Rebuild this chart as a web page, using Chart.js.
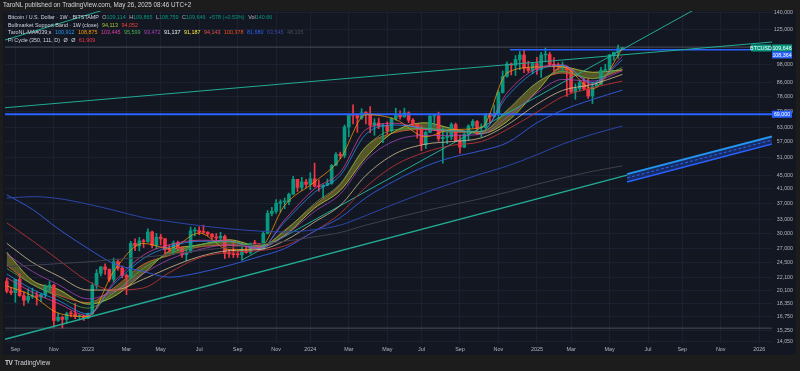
<!DOCTYPE html>
<html>
<head>
<meta charset="utf-8">
<script src="https://cdn.jsdelivr.net/npm/chart.js@4"></script>
<style>
  body { margin: 0; background: #1c1c1c; overflow: hidden; }
  #wrap { position: relative; width: 800px; height: 371px; font-family: 'Liberation Sans', Arial, sans-serif; }
  canvas { position: absolute; left: 0; top: 0; }
  .hdr { position: absolute; left: 3px; top: 1px; font-size: 6.3px; color: #d1d4dc; white-space: nowrap; }
  #legend { position: absolute; left: 8px; top: 14px; font-size: 5.4px; line-height: 7.5px; color: #d1d4dc; white-space: nowrap; }
  #legend span { margin-left: 2px; }
  .k { color: #b2b5be; }
  .g { color: #089981; }
  .tv { position: absolute; left: 5px; top: 359px; font-size: 6.5px; color: #d1d4dc; white-space: nowrap; }
  .tv b { font-size: 6.5px; letter-spacing: -0.5px; margin-right: 2px; }
</style>
</head>
<body>
<div id="wrap">
  <canvas id="chart" width="800" height="371"></canvas>
  <div class="hdr">TaroNL published on TradingView.com, May 26, 2025 08:46 UTC+2</div>
  <div id="legend">
    <div>Bitcoin / U.S. Dollar · 1W · BITSTAMP <span class="k">O</span><span class="g" style="margin-left:0">109,114</span> <span class="k">H</span><span class="g" style="margin-left:0">109,865</span> <span class="k">L</span><span class="g" style="margin-left:0">108,759</span> <span class="k">C</span><span class="g" style="margin-left:0">109,646</span> <span class="g">+578 (+0.53%)</span> <span class="k">Vol</span><span class="g" style="margin-left:0">140.66</span></div>
    <div>Bullmarket Support Band · 1W (close) <span style="color:#a8c43a">94,113</span> <span style="color:#f44336">94,052</span></div>
    <div>TaroNL-MA#039;s <span style="color:#2196f3">100,912</span> <span style="color:#ff9800">108,875</span> <span style="color:#e040a0">103,445</span> <span style="color:#4caf50">95,599</span> <span style="color:#ab47bc">93,472</span> <span style="color:#f0f0f0">91,137</span> <span style="color:#ffeb3b">91,187</span> <span style="color:#ef5350">94,143</span> <span style="color:#f4511e">100,378</span> <span style="color:#2962ff">81,680</span> <span style="color:#3949ab">63,545</span> <span style="color:#4a4d57">48,105</span></div>
    <div>Pi Cycle (350, 111, D) <span>Ø</span> <span>Ø</span> <span style="color:#f23645">61,909</span></div>
  </div>
  <div class="tv"><b>TV</b>TradingView</div>
</div>
<script>
// Weekly candles BTCUSD (Bitstamp), first candle week of 2022-08-22
const candleStart = '2022-08-22';
const opens = [
  21500,20040,19830,21770,19420,18800,19310,19420,19220,19570,20630,20900,16330,16700,16450,17120,17100,16780,16840,
  16610,17120,20870,22710,23740,23330,21780,24630,23530,22400,22120,27990,27480,28470,28330,30310,27590,29240,28900,26780,
  26750,28080,27100,25850,26340,30530,30590,30290,30230,29860,29280,29050,29410,26100,26010,25870,25840,26530,26250,27970,
  27920,26860,29990,34500,35010,37050,37380,37450,39460,43790,41380,43000,
  42280,43950,41730,41580,42030,42580,48300,52130,51730,63130,68960,68390,67220,69650,69370,63920,64940,63420,63890,61480,
  66940,68510,67750,69650,66200,64300,62700,55860,60800,68160,68250,58160,58720,58900,64230,57300,54850,59990,63590,65600,
  62810,62880,69000,67960,68780,80300,89830,98000,97200,101150,104460,95200,93700,
  98300,94500,104400,104800,97700,96500,96100,96200,94250,80700,82600,86100,82400,78400,83800,85100,93700,94300,104600,106500,109114
];
const highs = [
  21900,20580,21800,22670,19950,20370,20470,19950,19690,20980,21450,21050,17190,16830,17310,17430,18390,17000,16950,
  17200,21250,23300,23800,24250,23430,25250,25030,23900,22600,28400,28900,29180,28800,31000,30480,30020,29850,29000,
  27650,28450,28440,27400,26800,31400,31270,31400,31800,30400,29990,29990,30250,29690,26800,28150,26460,27480,27480,28050,
  28600,28000,30400,35200,35980,37980,37960,38430,39750,44700,43800,44400,43800,
  45900,49050,43580,42200,43880,48550,52800,52950,64000,69200,73750,68900,71760,70300,72800,66880,67200,64700,65500,
  67450,71950,70620,71980,70190,66950,64500,63800,61400,68400,68500,70000,62700,61800,65000,64900,59800,60650,64130,66500,
  66000,64500,69400,69500,73600,81500,93400,99600,98700,104000,107000,108350,99950,98950,
  102700,106400,109600,106500,102500,98800,99500,96500,95000,85300,87500,88800,88500,86100,86500,95700,97900,104900,105800,111900,109865
];
const lows = [
  19800,19560,18540,19330,18150,18470,19060,18190,18660,19160,20070,15590,16230,15480,16000,16750,16530,16400,16330,
  16530,17000,20420,22300,22520,21450,21350,23150,22000,19570,21900,26600,26550,27200,28170,27130,26940,27680,25810,
  26330,25880,26600,25370,24800,26250,29500,29720,30040,29550,28860,28600,28710,25170,25360,25360,25350,24900,26130,26000,
  27200,26540,26820,29900,33900,34500,34800,35650,36700,39400,40200,40550,41350,
  40750,41500,40280,38550,41850,42290,48150,50630,50900,59000,64500,60800,66550,64500,60700,59600,62400,56550,60190,
  60750,66100,66700,67600,65060,63400,58400,53500,54300,60650,63450,57150,49050,56150,57800,57200,52600,54600,57500,62650,
  59820,58900,62500,65100,67450,66800,80000,89400,90800,90500,94200,92200,92500,91500,
  91200,89300,99500,96200,91200,94100,93400,78200,80000,76600,81200,81600,77100,74400,83100,85000,92800,93400,100700,102000,108759
];
const closes = [
  20040,19830,21770,19420,18800,19310,19420,19220,19570,20630,20900,16330,16700,16450,17120,17100,16780,16840,16610,
  17120,20870,22710,23740,23330,21780,24630,23530,22400,22120,27990,27480,28470,28330,30310,27590,29240,28900,26780,
  26750,28080,27100,25850,26340,30530,30590,30290,30230,29860,29280,29050,29410,26100,26010,25870,25840,26530,26250,27970,
  27920,26860,29990,34500,35010,37050,37380,37450,39460,43790,41380,43000,42280,
  43950,41730,41580,42030,42580,48300,52130,51730,63130,68960,68390,67220,69650,69370,63920,64940,63420,63890,61480,
  66940,68510,67750,69650,66200,64300,62700,55860,60800,68160,68250,58160,58720,58900,64230,57300,54850,59990,63590,65600,
  62810,62880,69000,67960,68780,80300,89830,98000,97200,101150,104460,95200,93700,98300,
  94500,104400,104800,97700,96500,96100,96200,94250,80700,82600,86100,82400,78400,83800,85100,93700,94300,104600,106500,109100,109646
];

// Moving averages at these weeks
const maDates = ['2022-08-22','2022-10-03','2022-11-14','2023-01-02','2023-02-13','2023-04-03','2023-05-15','2023-07-03',
  '2023-08-21','2023-10-09','2023-11-20','2024-01-08','2024-02-19','2024-04-01','2024-05-20','2024-07-08','2024-08-19',
  '2024-10-07','2024-11-18','2025-01-06','2025-02-17','2025-04-07','2025-05-26'];
const bmsbSma = [26300,21600,20300,18300,19300,22700,26500,27700,28700,27500,29600,35800,40500,51000,61500,65000,62500,60300,65500,81000,96000,92500,94113];
const bmsbEma = [24000,21000,19500,18500,20500,24200,25700,27300,27600,27200,30700,36600,42200,55000,60800,62000,60800,61000,70500,86000,92000,88500,94052];
const maOrange = [20800,19400,17200,16800,23000,28000,27000,30100,26800,27000,36500,43000,50500,68800,66500,59000,62000,62800,92000,96000,96300,82500,108875];
const maPink = [22000,19900,18400,16900,21300,25800,27700,28600,28500,26800,33000,41000,46000,62000,64800,62000,61500,61000,80000,95000,97500,85000,103445];
const maBlue = [22600,20300,18800,17100,21000,25200,27300,28400,28400,27000,32500,40000,45000,60000,64000,62500,61500,61200,78000,93500,97000,86000,100912];
const maGreen = [23500,21000,19300,17800,19800,23500,26000,27700,28300,27400,30500,37000,42500,55000,62000,62500,61500,61200,71000,86000,93000,88500,95599];
const maPurple = [26000,23000,21000,19000,20000,22700,25000,26800,27700,27200,29500,35000,39500,50000,57500,59500,59500,60000,67500,80000,88000,87000,93472];
const maCream = [28000,24500,22300,20200,20200,21800,23600,25500,26600,26800,28500,32500,36500,45000,52500,56000,57000,58500,64000,74000,81500,85000,91137];
const maRed = [32300,28500,25000,21500,20200,20500,22800,25300,26300,26600,27500,30500,34500,41500,48500,53000,55500,57000,62000,70000,78000,83000,87000];
const ma50 = [39300,35500,31000,27000,24300,23000,22100,22800,24000,25500,27000,30500,33500,38500,43500,48000,51000,53500,56500,65000,71000,76500,81680];
const ma100 = [38400,38800,38300,36800,35300,33500,32600,31700,31000,30500,30300,30800,31800,34000,37000,40000,42500,45500,48000,52000,56000,60000,63545];
const ma200 = [23800,24000,24300,24600,25000,25400,25900,26600,27200,27800,28400,29300,30200,31800,33500,35200,36600,38300,40000,42300,44200,46300,48105];

// Drawn lines: [week, price] pairs (week 0 = 2023-01-02)
const lowerTrend = [[-19.42, 14310], [126.1, 45100]];
const channelTop = [[126.1, 45400], [160, 59100]];
const channelMid = [[126.1, 44200], [160, 57600]];
const channelBot = [[126.1, 43000], [160, 56100]];
const upperTrend = [[-19.42, 72200], [160, 114300]];
const steepTrend = [[36, 24900], [143.2, 146600]];
const topLeftTrend = [[-19.42, 115900], [5.15, 145000]];
const level69k = 69000;
const level108k = 108364;
const level108kStart = 98.7;
const athLevel = 110300;
const lowLevel = 15480;

// Axis ticks
const xTickDates = ['2022-09-05','2022-11-07','2023-01-02','2023-03-06','2023-05-01','2023-07-03','2023-09-04','2023-11-06',
  '2024-01-01','2024-03-04','2024-05-06','2024-07-01','2024-09-02','2024-11-04','2025-01-06','2025-03-03','2025-05-05',
  '2025-07-07','2025-09-01','2025-11-03','2026-01-05'];
const xTickLabels = ['Sep','Nov','2023','Mar','May','Jul','Sep','Nov','2024','Mar','May','Jul','Sep','Nov','2025','Mar','May','Jul','Sep','Nov','2026'];
const yTicks = [14050,15250,16750,18350,20100,22100,24500,27000,30000,33000,37000,41000,45000,51000,57000,63000,70500,78000,86000,98000,125000,140000];

const UP = '#089981', DOWN = '#f23645';
const BASE = Date.UTC(2023, 0, 2);
const wk = s => (Date.parse(s) - BASE) / 604800000;
const w0 = wk(candleStart);

const candleColor = opens.map((o, i) => closes[i] >= o ? UP : DOWN);
const wicks = opens.map((o, i) => ({ x: w0 + i, y: [lows[i], highs[i]] }));
const bodies = opens.map((o, i) => ({ x: w0 + i, y: [Math.min(o, closes[i]), Math.max(o, closes[i])] }));

const curve = vals => maDates.map((d, i) => ({ x: wk(d), y: vals[i] }));
const seg = pts => pts.map(p => ({ x: p[0], y: p[1] }));

function maLine(vals, color, extra) {
    return Object.assign({
        type: 'line', data: curve(vals), borderColor: color, borderWidth: 1,
        pointRadius: 0, cubicInterpolationMode: 'monotone', fill: false, order: 0
    }, extra || {});
}
function segLine(pts, color, width, extra) {
    return Object.assign({
        type: 'line', data: seg(pts), borderColor: color, borderWidth: width,
        pointRadius: 0, tension: 0, fill: false, order: 0
    }, extra || {});
}

const datasets = [
    // bull market support band
    maLine(bmsbSma, 'rgba(170,190,60,0.9)', { fill: '+1', backgroundColor: 'rgba(140,140,45,0.55)', order: 3 }),
    maLine(bmsbEma, 'rgba(230,80,60,0.85)', { order: 3 }),
    // long MAs
    maLine(ma200, '#3e414c'),
    maLine(ma100, '#2a45a8'),
    maLine(ma50, '#2f56d0'),
    maLine(maRed, 'rgba(185,50,50,0.9)'),
    // ribbon
    maLine(maCream, 'rgba(225,200,150,0.75)'),
    maLine(maPurple, 'rgba(171,71,188,0.75)'),
    maLine(maGreen, 'rgba(76,175,80,0.75)'),
    maLine(maBlue, 'rgba(33,150,243,0.75)'),
    maLine(maPink, 'rgba(224,64,160,0.75)'),
    maLine(maOrange, 'rgba(255,152,0,0.75)'),
    // drawings
    segLine(lowerTrend, '#22ab94', 1.5),
    segLine(upperTrend, '#22ab94', 1),
    segLine(steepTrend, '#22ab94', 1),
    segLine(topLeftTrend, '#22ab94', 1),
    segLine(channelTop, '#2196f3', 2, { fill: '+2', backgroundColor: 'rgba(41,98,255,0.28)' }),
    segLine(channelMid, '#2962ff', 1, { borderDash: [3, 2] }),
    segLine(channelBot, '#2962ff', 1.5),
    segLine([[-19.42, level69k], [160, level69k]], '#2962ff', 2),
    segLine([[level108kStart, level108k], [160, level108k]], '#2962ff', 1.5),
    segLine([[-19.42, athLevel], [160, athLevel]], 'rgba(120,123,134,0.55)', 1),
    segLine([[-19.42, lowLevel], [160, lowLevel]], 'rgba(120,123,134,0.55)', 1),
    // candles
    { type: 'bar', data: wicks, backgroundColor: c => candleColor[c.dataIndex], barThickness: 1, grouped: false, order: 1 },
    { type: 'bar', data: bodies, backgroundColor: c => candleColor[c.dataIndex], barThickness: 3, minBarLength: 1, grouped: false, order: 1 }
];

function priceBox(g, x, yc, w, text, bg) {
    g.fillStyle = bg;
    g.fillRect(x, yc - 3.5, w, 7);
    g.fillStyle = '#ffffff';
    g.font = "5.3px 'Liberation Sans', Arial, sans-serif";
    g.textAlign = 'center';
    g.textBaseline = 'middle';
    g.fillText(text, x + w / 2, yc + 0.3);
}

const framePlugin = {
    id: 'frame',
    beforeDraw(c) {
        const g = c.ctx;
        g.save();
        g.fillStyle = '#131722';
        g.fillRect(3, 11, 793, 344);
        g.restore();
    },
    afterDraw(c) {
        const g = c.ctx, y = c.scales.y;
        g.save();
        const yc = y.getPixelForValue(109646);
        priceBox(g, 751, yc, 20, 'BTCUSD', UP);
        priceBox(g, 772, yc, 20, '109,646', UP);
        priceBox(g, 772, yc + 7, 20, '108,364', '#2962ff');
        priceBox(g, 772, y.getPixelForValue(level69k), 20, '69,000', '#2962ff');
        g.restore();
    }
};

Chart.defaults.font.family = "'Liberation Sans', Arial, sans-serif";

new Chart(document.getElementById('chart'), {
    type: 'bar',
    data: { datasets: datasets },
    options: {
        responsive: false,
        animation: false,
        events: [],
        layout: { padding: { left: 5, top: 11, right: 7, bottom: 16 } },
        plugins: { legend: { display: false }, tooltip: { enabled: false } },
        scales: {
            x: {
                type: 'linear', min: -19.42, max: 160, offset: false,
                grid: { color: '#1c2030', offset: false, drawTicks: false },
                border: { display: false },
                afterBuildTicks: s => { s.ticks = xTickDates.map(d => ({ value: wk(d) })); },
                afterFit: s => { s.height = 12; },
                ticks: {
                    autoSkip: false, maxRotation: 0, padding: 3, color: '#b2b5be',
                    font: { size: 5.4 },
                    callback: (v, i) => xTickLabels[i]
                }
            },
            y: {
                type: 'logarithmic', position: 'right', min: 13952, max: 141970,
                grid: { color: '#1c2030', drawTicks: false },
                border: { display: false },
                afterBuildTicks: s => { s.ticks = yTicks.map(v => ({ value: v })); },
                afterFit: s => { s.width = 21; },
                ticks: {
                    autoSkip: false, crossAlign: 'far', padding: 0, color: '#b2b5be',
                    font: { size: 5.3 },
                    callback: v => v.toLocaleString('en-US')
                }
            }
        }
    },
    plugins: [framePlugin]
});
</script>
</body>
</html>
